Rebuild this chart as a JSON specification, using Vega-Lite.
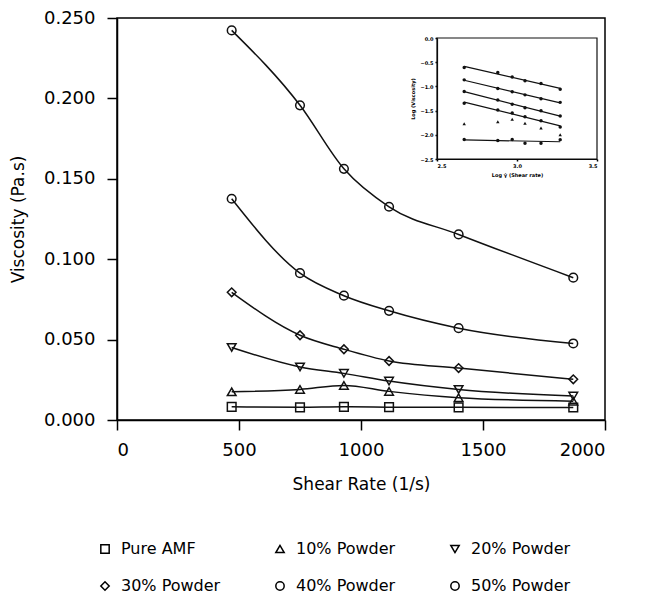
{
  "$schema": "https://vega.github.io/schema/vega-lite/v6.json",
  "width": 488,
  "height": 402,
  "autosize": {"type": "none"},
  "padding": {"left": 117, "top": 18, "right": 62, "bottom": 175},
  "background": "white",
  "config": {
    "font": "DejaVu Sans",
    "view": {"stroke": "black", "strokeWidth": 1.5},
    "axis": {"grid": false, "domainColor": "black", "domainWidth": 1.5, "tickColor": "black", "tickWidth": 1.5, "labelColor": "black", "titleColor": "black", "titleFontWeight": "normal"},
    "legend": {
      "orient": "none", "legendX": -20, "legendY": 523, "direction": "horizontal", "columns": 3,
      "labelFontSize": 16, "labelColor": "black", "symbolSize": 70, "symbolStrokeWidth": 1.5,
      "symbolStrokeColor": "black", "symbolFillColor": "white", "rowPadding": 21, "columnPadding": 51, "labelOffset": 8
    }
  },
  "datasets": {
    "main": [
      {"series": "Pure AMF", "shear": 470, "visc": 0.0082},
      {"series": "Pure AMF", "shear": 750, "visc": 0.0079},
      {"series": "Pure AMF", "shear": 930, "visc": 0.0082},
      {"series": "Pure AMF", "shear": 1115, "visc": 0.0080},
      {"series": "Pure AMF", "shear": 1400, "visc": 0.0079},
      {"series": "Pure AMF", "shear": 1870, "visc": 0.0078},
      {"series": "10% Powder", "shear": 470, "visc": 0.0175},
      {"series": "10% Powder", "shear": 750, "visc": 0.019},
      {"series": "10% Powder", "shear": 930, "visc": 0.0215},
      {"series": "10% Powder", "shear": 1115, "visc": 0.0178},
      {"series": "10% Powder", "shear": 1400, "visc": 0.0139},
      {"series": "10% Powder", "shear": 1870, "visc": 0.0117},
      {"series": "20% Powder", "shear": 470, "visc": 0.0451},
      {"series": "20% Powder", "shear": 750, "visc": 0.033},
      {"series": "20% Powder", "shear": 930, "visc": 0.029},
      {"series": "20% Powder", "shear": 1115, "visc": 0.0242},
      {"series": "20% Powder", "shear": 1400, "visc": 0.019},
      {"series": "20% Powder", "shear": 1870, "visc": 0.0149},
      {"series": "30% Powder", "shear": 470, "visc": 0.0794},
      {"series": "30% Powder", "shear": 750, "visc": 0.0527},
      {"series": "30% Powder", "shear": 930, "visc": 0.044},
      {"series": "30% Powder", "shear": 1115, "visc": 0.0367},
      {"series": "30% Powder", "shear": 1400, "visc": 0.0323},
      {"series": "30% Powder", "shear": 1870, "visc": 0.0253},
      {"series": "40% Powder", "shear": 470, "visc": 0.1376},
      {"series": "40% Powder", "shear": 750, "visc": 0.0913},
      {"series": "40% Powder", "shear": 930, "visc": 0.0773},
      {"series": "40% Powder", "shear": 1115, "visc": 0.0679},
      {"series": "40% Powder", "shear": 1400, "visc": 0.0571},
      {"series": "40% Powder", "shear": 1870, "visc": 0.0476},
      {"series": "50% Powder", "shear": 470, "visc": 0.2423},
      {"series": "50% Powder", "shear": 750, "visc": 0.1957},
      {"series": "50% Powder", "shear": 930, "visc": 0.1562},
      {"series": "50% Powder", "shear": 1115, "visc": 0.1326},
      {"series": "50% Powder", "shear": 1400, "visc": 0.1154},
      {"series": "50% Powder", "shear": 1870, "visc": 0.0885}
    ],
    "inset": [
      {"series": "50% Powder", "lx": 2.67, "ly": -0.611},
      {"series": "50% Powder", "lx": 2.88, "ly": -0.715},
      {"series": "50% Powder", "lx": 2.97, "ly": -0.806},
      {"series": "50% Powder", "lx": 3.05, "ly": -0.885},
      {"series": "50% Powder", "lx": 3.15, "ly": -0.938},
      {"series": "50% Powder", "lx": 3.27, "ly": -1.06},
      {"series": "40% Powder", "lx": 2.67, "ly": -0.865},
      {"series": "40% Powder", "lx": 2.88, "ly": -1.042},
      {"series": "40% Powder", "lx": 2.97, "ly": -1.111},
      {"series": "40% Powder", "lx": 3.05, "ly": -1.175},
      {"series": "40% Powder", "lx": 3.15, "ly": -1.255},
      {"series": "40% Powder", "lx": 3.27, "ly": -1.33},
      {"series": "30% Powder", "lx": 2.67, "ly": -1.104},
      {"series": "30% Powder", "lx": 2.88, "ly": -1.283},
      {"series": "30% Powder", "lx": 2.97, "ly": -1.368},
      {"series": "30% Powder", "lx": 3.05, "ly": -1.44},
      {"series": "30% Powder", "lx": 3.15, "ly": -1.505},
      {"series": "30% Powder", "lx": 3.27, "ly": -1.61},
      {"series": "20% Powder", "lx": 2.67, "ly": -1.347},
      {"series": "20% Powder", "lx": 2.88, "ly": -1.486},
      {"series": "20% Powder", "lx": 2.97, "ly": -1.55},
      {"series": "20% Powder", "lx": 3.05, "ly": -1.625},
      {"series": "20% Powder", "lx": 3.15, "ly": -1.71},
      {"series": "20% Powder", "lx": 3.27, "ly": -1.84},
      {"series": "10% Powder", "lx": 2.67, "ly": -1.77},
      {"series": "10% Powder", "lx": 2.88, "ly": -1.73},
      {"series": "10% Powder", "lx": 2.97, "ly": -1.68},
      {"series": "10% Powder", "lx": 3.05, "ly": -1.76},
      {"series": "10% Powder", "lx": 3.15, "ly": -1.86},
      {"series": "10% Powder", "lx": 3.27, "ly": -2.0},
      {"series": "Pure AMF", "lx": 2.67, "ly": -2.097},
      {"series": "Pure AMF", "lx": 2.88, "ly": -2.118},
      {"series": "Pure AMF", "lx": 2.97, "ly": -2.097},
      {"series": "Pure AMF", "lx": 3.05, "ly": -2.174},
      {"series": "Pure AMF", "lx": 3.15, "ly": -2.174},
      {"series": "Pure AMF", "lx": 3.27, "ly": -2.1}
    ],
    "frame": [{"x1": 2.5, "x2": 3.5, "y1": -2.5, "y2": 0}]
  },
  "layer": [
    {
      "data": {"name": "main"},
      "encoding": {
        "x": {"field": "shear", "type": "quantitative", "scale": {"domain": [0, 2000], "nice": false},
          "axis": {"title": "Shear Rate (1/s)", "values": [0, 500, 1000, 1500, 2000], "format": "d", "tickSize": 10, "labelFontSize": 18, "titleFontSize": 17, "labelPadding": 11, "titlePadding": 17}},
        "y": {"field": "visc", "type": "quantitative", "scale": {"domain": [0, 0.25], "nice": false},
          "axis": {"title": "Viscosity (Pa.s)", "values": [0, 0.05, 0.1, 0.15, 0.2, 0.25], "format": ".3f", "tickSize": 10, "labelFontSize": 18, "titleFontSize": 17, "labelPadding": 12, "titlePadding": 16}}
      },
      "layer": [
        {"mark": {"type": "line", "interpolate": "monotone", "color": "#111", "strokeWidth": 1.5},
          "encoding": {"detail": {"field": "series"}}},
        {"mark": {"type": "point", "filled": false, "color": "#111", "strokeWidth": 1.5, "size": 75, "opacity": 1},
          "encoding": {"shape": {"field": "series", "type": "nominal", "title": null,
            "scale": {"domain": ["Pure AMF", "10% Powder", "20% Powder", "30% Powder", "40% Powder", "50% Powder"],
              "range": ["square", "triangle-up", "triangle-down", "diamond", "circle", "circle"]}}}}
      ]
    },
    {
      "layer": [
        {
          "data": {"name": "frame"},
          "mark": {"type": "rect", "fill": null, "stroke": "#111", "strokeWidth": 1.2},
          "encoding": {
            "x": {"field": "x1", "type": "quantitative", "scale": {"domain": [2.5, 3.5], "range": [320, 480], "nice": false},
              "axis": {"orient": "bottom", "offset": -261, "title": "Log γ̇ (Shear rate)", "values": [2.5, 3.0, 3.5], "format": ".1f", "labelFontSize": 5, "labelFontWeight": "bold", "titleFontSize": 5, "titleFontWeight": "bold", "tickSize": 2, "labelPadding": 2, "titlePadding": 4, "domainWidth": 1.2}},
            "x2": {"field": "x2"},
            "y": {"field": "y1", "type": "quantitative", "scale": {"domain": [-2.5, 0], "range": [141, 20], "nice": false},
              "axis": {"orient": "left", "offset": -320, "title": "Log (Viscosity)", "values": [-2.5, -2, -1.5, -1, -0.5, 0], "format": ".1f", "labelFontSize": 5, "labelFontWeight": "bold", "titleFontSize": 5, "titleFontWeight": "bold", "tickSize": 2, "labelPadding": 2, "titlePadding": 4, "domainWidth": 1.2}},
            "y2": {"field": "y2"}
          }
        },
        {
          "data": {"name": "inset"},
          "transform": [
            {"filter": "datum.series != '10% Powder'"},
            {"regression": "ly", "on": "lx", "groupby": ["series"]}
          ],
          "mark": {"type": "line", "color": "#111", "strokeWidth": 1.2},
          "encoding": {
            "x": {"field": "lx", "type": "quantitative"},
            "y": {"field": "ly", "type": "quantitative"},
            "detail": {"field": "series"}
          }
        },
        {
          "data": {"name": "inset"},
          "mark": {"type": "point", "filled": true, "color": "#111", "size": 12, "opacity": 1},
          "encoding": {
            "x": {"field": "lx", "type": "quantitative"},
            "y": {"field": "ly", "type": "quantitative"},
            "shape": {"condition": {"test": "datum.series == '10% Powder'", "value": "triangle-up"}, "value": "circle"}
          }
        }
      ]
    }
  ],
  "resolve": {"scale": {"x": "independent", "y": "independent", "shape": "independent"}}
}
